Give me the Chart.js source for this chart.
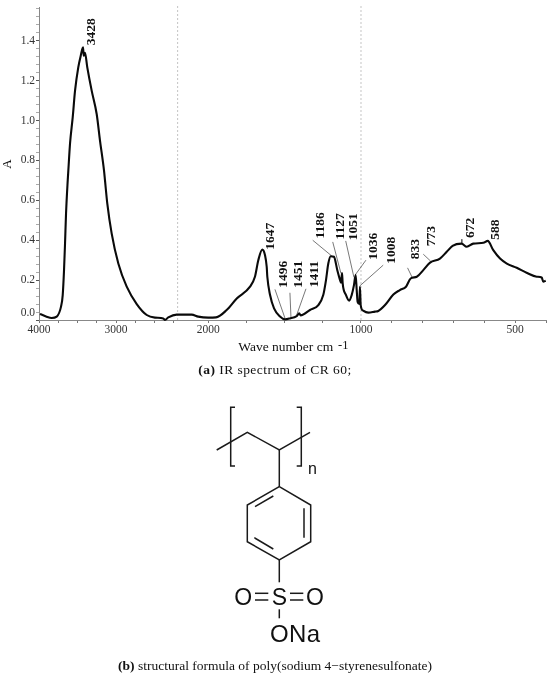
<!DOCTYPE html>
<html><head><meta charset="utf-8">
<script src="https://cdn.jsdelivr.net/npm/chart.js@4"></script>
<style>
html,body{margin:0;padding:0;background:#fff;overflow:hidden}
#wrap{position:relative;width:550px;height:683px;background:#fff}
#c{position:absolute;left:0;top:0;width:550px;height:360px}
.cap{position:absolute;left:0;width:550px;text-align:center;font-family:"Liberation Serif",serif;font-size:13.5px;color:#111;white-space:nowrap}
svg{position:absolute;left:0;top:0}
svg text{font-family:"Liberation Sans",sans-serif;fill:#111}
</style></head><body>
<div id="wrap">
<canvas id="c" width="550" height="360"></canvas>
<svg width="550" height="683" viewBox="0 0 550 683">
<g fill="none" stroke="#1a1a1a" stroke-width="1.5">
<polyline points="216.7,450 247.3,432.3 279.3,450 310,432.3"/>
<polyline points="235,407.3 230.7,407.3 230.7,466 235,466"/>
<polyline points="296.7,407.3 301.3,407.3 301.3,466 296.7,466"/>
<line x1="279.3" y1="450" x2="279.3" y2="486.7"/>
<polygon points="279.3,486.7 310.7,505 310.7,541.7 279.3,560 247.3,541.7 247.3,505"/>
<line x1="255" y1="506.7" x2="273.3" y2="496"/>
<line x1="304" y1="508.3" x2="304" y2="537.7"/>
<line x1="254.3" y1="537.7" x2="273.3" y2="549"/>
<line x1="279.3" y1="560" x2="279.3" y2="582.3"/>
<line x1="255" y1="593.3" x2="268.3" y2="593.3"/>
<line x1="255" y1="600" x2="268.3" y2="600"/>
<line x1="290" y1="593.3" x2="303.3" y2="593.3"/>
<line x1="290" y1="600" x2="303.3" y2="600"/>
<line x1="279.3" y1="609.3" x2="279.3" y2="618.3"/>
</g>
<text x="308" y="473.5" font-size="16">n</text>
<text x="243.3" y="605" font-size="23" text-anchor="middle">O</text>
<text x="279.3" y="605" font-size="23" text-anchor="middle">S</text>
<text x="315" y="605" font-size="23" text-anchor="middle">O</text>
<text x="270" y="641.7" font-size="24" textLength="50">ONa</text>
</svg>
<div class="cap" style="top:362px;letter-spacing:.45px"><b>(a)</b> IR spectrum of CR 60;</div>
<div class="cap" style="top:658px"><b>(b)</b> structural formula of poly(sodium 4−styrenesulfonate)</div>
</div>
<script>
const wavenumbers=[3987,3909,3835,3770,3714,3692,3675,3662,3649,3627,3619,3597,3562,3532,3490,3458,3428,3419,3403,3373,3316,3251,3208,3156,3143,3113,3056,2970,2861,2731,2601,2494,2386,2364,2321,2212,2108,2065,2000,1949,1879,1813,1726,1694,1672,1646,1628,1617,1613,1595,1569,1530,1497,1465,1421,1404,1395,1334,1279,1247,1229,1214,1198,1177,1155,1137,1131,1124,1120,1098,1077,1061,1046,1035,1028,1022,1011,1007,1002,993,976,955,944,922,895,874,854,839,819,798,776,744,722,703,674,657,636,603,589,571,549,527,495,463,430,414,409,401];
const absorbance=[.03,.018,.01,.017,.067,.125,.25,.383,.533,.70,.75,.885,1.017,1.15,1.267,1.325,1.367,1.325,1.34,1.267,1.15,1.033,.9,.75,.70,.583,.433,.283,.167,.08,.025,.012,.008,0,.013,.027,.027,.017,.012,.013,.05,.108,.167,.217,.3,.353,.325,.267,.217,.125,.058,.017,.003,.008,.02,.033,.023,.05,.075,.125,.2,.283,.32,.317,.25,.2,.187,.235,.185,.125,.097,.125,.175,.225,.15,.09,.08,.167,.075,.047,.037,.042,.045,.075,.128,.15,.167,.208,.217,.25,.288,.308,.342,.372,.383,.367,.383,.387,.397,.35,.308,.283,.262,.237,.217,.213,.192,.197];

const axisBreaks=[4000,2200,1000,400];
const axisFractions=[0,.2734,.6351,1];
const xTickValues=[4000,3750,3500,3250,3000,2750,2500,2250,2000,1750,1500,1250,1000,900,800,700,600,500,400];
const xTickLabels=['4000','3000','2000','1000','500'];
const yTickStep=.04, yTickCount=40;
const dividerLines=[2200,1000];
const dividerRange=[0,1.58];

const peakLabels=['3428','1647','1496','1451','1411','1186','1127','1051','1036','1008','833','773','672','588'];
const peakLabelWn=[3316,1595,1508,1410,1301,1262,1137,1052,961,900,823,771,644,563];
const peakLabelA=[1.445,.42,.23,.23,.23,.475,.47,.467,.37,.35,.355,.42,.462,.453];
const leaderStartWn=[1563,1465,1360,1316,1185,1100,984,928,849,798,673];
const leaderStartA=[.1535,.1365,.1565,.40,.3915,.3965,.30,.275,.2615,.33,.405];
const leaderEndWn=[1497,1458,1421,1192,1131,1046,1039,1007,834,774,673];
const leaderEndA=[.008,.008,.025,.3215,.2335,.2135,.225,.1715,.2135,.295,.3835];

class IRScale extends Chart.LinearScale{
  static id='irscale';
  static defaults=Chart.LinearScale.defaults;
  fracOf(v){
    for(let i=0;i<axisBreaks.length-1;i++){
      if(v>=axisBreaks[i+1]||i===axisBreaks.length-2){
        const t=(axisBreaks[i]-v)/(axisBreaks[i]-axisBreaks[i+1]);
        return axisFractions[i]+t*(axisFractions[i+1]-axisFractions[i]);
      }
    }
    return 0;
  }
  getPixelForValue(v){return this.left+this.fracOf(v)*this.width;}
}
Chart.register(IRScale);

const peakText={id:'peakText',afterDatasetsDraw(chart){
  const {ctx,scales:{x,y}}=chart;
  ctx.save();
  ctx.fillStyle='#111';ctx.font='bold 13.5px "Liberation Serif",serif';
  ctx.textAlign='center';ctx.textBaseline='middle';
  peakLabels.forEach((t,i)=>{
    ctx.save();
    ctx.translate(x.getPixelForValue(peakLabelWn[i]),y.getPixelForValue(peakLabelA[i]));
    ctx.rotate(-Math.PI/2);ctx.fillText(t,0,0);ctx.restore();
  });
  ctx.fillStyle='#333';ctx.font='11.5px "Liberation Serif",serif';
  ctx.textAlign='right';
  ctx.fillText('0.0',x.left-4,y.getPixelForValue(.033));
  ctx.fillStyle='#111';ctx.font='12.5px "Liberation Serif",serif';
  ctx.textAlign='left';
  ctx.fillText('-1',x.getPixelForValue(1150),x.bottom-14);
  ctx.restore();
}};

const datasets=[{data:wavenumbers.map((w,i)=>({x:w,y:absorbance[i]})),borderColor:'#0a0a0a',borderWidth:2.1,pointRadius:0,cubicInterpolationMode:'monotone',order:1,clip:false}];
dividerLines.forEach(w=>datasets.push({data:dividerRange.map(a=>({x:w,y:a})),borderColor:'#c4c4c4',borderWidth:1,borderDash:[2,2],pointRadius:0,order:3,clip:false}));
leaderStartWn.forEach((w,i)=>datasets.push({data:[{x:w,y:leaderStartA[i]},{x:leaderEndWn[i],y:leaderEndA[i]}],borderColor:'#555',borderWidth:.8,pointRadius:0,order:2,clip:false}));

new Chart(document.getElementById('c'),{
  type:'line',
  data:{datasets},
  plugins:[peakText],
  options:{
    responsive:false,animation:false,
    layout:{padding:{left:0,right:4,top:7,bottom:0}},
    plugins:{legend:{display:false},tooltip:{enabled:false}},
    scales:{
      x:{type:'irscale',min:400,max:4000,
        afterBuildTicks:s=>{s.ticks=xTickValues.map(v=>({value:v}));},
        afterFit:s=>{s.height=40;},
        border:{color:'#888',width:1},
        grid:{drawOnChartArea:false,tickLength:3,tickWidth:1,tickColor:'#777'},
        ticks:{autoSkip:false,maxRotation:0,padding:0,color:'#333',font:{family:'"Liberation Serif",serif',size:11.5},
          callback:v=>xTickLabels.includes(String(v))?String(v):''},
        title:{display:true,text:'Wave number cm    ',color:'#111',font:{family:'"Liberation Serif",serif',size:13.5},padding:{top:0,bottom:4}}
      },
      y:{min:0,max:1.565,
        afterBuildTicks:s=>{s.ticks=Array.from({length:yTickCount},(_,i)=>({value:i*yTickStep}));},
        afterFit:s=>{s.width=39;},
        border:{color:'#888',width:1},
        grid:{drawOnChartArea:false,tickLength:3,tickWidth:1,
          tickColor:c=>(c.index%5===0?'#555':'#aaa')},
        ticks:{autoSkip:false,padding:1,color:'#333',font:{family:'"Liberation Serif",serif',size:11.5},
          callback:(v,i)=>(i%5===0&&i>0)?(i*yTickStep).toFixed(1):''},
        title:{display:true,text:'A',color:'#111',font:{family:'"Liberation Serif",serif',size:13},padding:{top:0,bottom:0}}
      }
    }
  }
});
</script>
</body></html>
